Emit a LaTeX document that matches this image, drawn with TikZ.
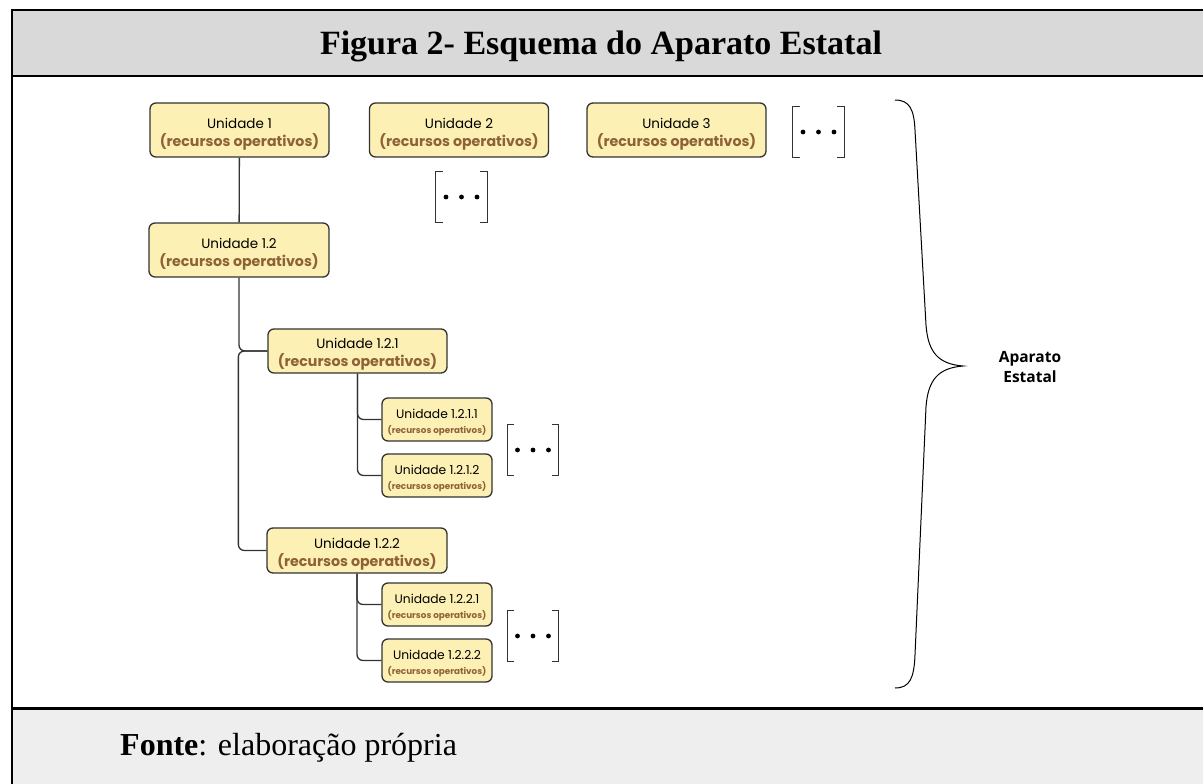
\documentclass[tikz,border=0pt]{standalone}
\usepackage{fontspec}
\setmainfont{Liberation Serif}
\newfontfamily\boxfont{Poppins}
\newfontfamily\brfont{Open Sans}
\usetikzlibrary{calc}
\definecolor{boxfill}{HTML}{FCF0B4}
\definecolor{boxline}{HTML}{333333}
\definecolor{subbrown}{HTML}{8E6236}
\definecolor{hdrgray}{HTML}{D9D9D9}
\definecolor{ftrgray}{HTML}{EEEEEE}
\tikzset{
  unit/.style={draw=boxline, line width=1.3pt, fill=boxfill, rounded corners=6pt,
    inner sep=0pt, minimum width=179pt, minimum height=54pt},
  unitm/.style={unit, minimum height=44pt},
  units/.style={unit, minimum width=110pt, minimum height=43pt},
  utxt/.style={inner sep=0pt, align=center, font=\boxfont\fontsize{13.5}{18}\selectfont},
  utxts/.style={inner sep=0pt, align=center, font=\boxfont\fontsize{12.3}{15}\selectfont},
  conn/.style={draw=boxline, line width=1.3pt, rounded corners=6pt},
  brk/.style={minimum width=51pt, minimum height=50pt, inner sep=0pt},
  brkline/.style={draw=boxline, line width=1.3pt},
  frame/.style={draw=black, line width=2.5pt}
}
\newcommand{\subL}{{\fontsize{14.2}{18}\selectfont\bfseries\color{subbrown}(recursos operativos)}}
\newcommand{\subS}{{\fontsize{8.8}{10}\selectfont\bfseries\color{subbrown}(recursos operativos)}}
% \ubox{name}{box style}{text style}{x}{y}{text shift}{label}{sub}
\newcommand{\ubox}[8]{%
  \node[#2] (#1) at (#4,#5) {};
  \node[#3] (#1t) at ($(#1.center)+(0,#6)$) {#7\\#8};
}
\newcommand{\dotsbr}[3]{%
  \node[brk] (#1) at (#2,#3) {};
  \draw[brkline] ($(#1.north west)+(7,0)$) -- (#1.north west) -- (#1.south west) -- ++(7,0);
  \draw[brkline] ($(#1.north east)+(-7,0)$) -- (#1.north east) -- (#1.south east) -- ++(-7,0);
  \fill[black] ($(#1.center)+(-15.5,0)$) circle (2.4pt);
  \fill[black] (#1.center) circle (2.4pt);
  \fill[black] ($(#1.center)+(15.5,0)$) circle (2.4pt);
}
\begin{document}
\begin{tikzpicture}[x=1pt,y=-1pt]
\useasboundingbox (0,0) rectangle (1203,784);
\fill[white] (0,0) rectangle (1203,784);
% header and footer
\fill[hdrgray] (12,10) rectangle (1203,76);
\fill[ftrgray] (12,708) rectangle (1203,784);
\draw[frame] (12,10) -- (1203,10);
\draw[frame] (12,76) -- (1203,76);
\draw[frame, line width=3pt] (12,708) -- (1203,708);
\draw[frame] (12,8.75) -- (12,784);
\node[font=\bfseries\fontsize{34}{40}\selectfont, anchor=base, inner sep=0pt] (title) at (601,55) {Figura 2- Esquema do Aparato Estatal};
\node[font=\fontsize{32}{38}\selectfont, anchor=base west, inner sep=0pt] (fonte) at (120,755) {\textbf{Fonte}: elaboração própria};

% units
\ubox{u1}{unit}{utxt}{239.5}{130}{4.5}{Unidade 1}{\subL}
\ubox{u2}{unit}{utxt}{459}{130}{4.5}{Unidade 2}{\subL}
\ubox{u3}{unit}{utxt}{676.5}{130}{4.5}{Unidade 3}{\subL}
\ubox{u12}{unit, minimum width=180pt}{utxt}{239}{250}{4.5}{Unidade 1.2}{\subL}
\ubox{u121}{unitm}{utxt}{357.5}{351}{3.5}{Unidade 1.2.1}{\subL}
\ubox{u1211}{units}{utxts}{437}{419.5}{2.5}{Unidade 1.2.1.1}{\subS}
\ubox{u1212}{units}{utxts}{437}{475.5}{2.5}{Unidade 1.2.1.2}{\subS}
\ubox{u122}{unitm, minimum width=180pt, minimum height=45pt}{utxt}{357}{550.5}{3.5}{Unidade 1.2.2}{\subL}
\ubox{u1221}{units}{utxts}{437}{604.5}{2.5}{Unidade 1.2.2.1}{\subS}
\ubox{u1222}{units}{utxts}{437}{660.5}{2.5}{Unidade 1.2.2.2}{\subS}

% ellipsis brackets
\dotsbr{d1}{818.5}{132}
\dotsbr{d2}{461.5}{197}
\dotsbr{d3}{533}{450}
\dotsbr{d4}{533}{636}

% connectors
\draw[conn] (u1) -- (u12);
\draw[conn] (u12.south) |- (u121.west);
\draw[conn] (u121.west) -- ++(-29,0) |- (u122.west);
\draw[conn] (u121.south) |- (u1211.west);
\draw[conn] (u121.south) |- (u1212.west);
\draw[conn] (u122.south) |- (u1221.west);
\draw[conn] (u122.south) |- (u1222.west);

% brace
\draw[black, line width=1pt] (895,100) .. controls (910,100) and (914,110) .. (915,130)
  -- (926,325) .. controls (928,352) and (938,364) .. (963,366)
  .. controls (938,368) and (928,380) .. (926,407)
  -- (915,655) .. controls (914,678) and (910,688) .. (895,688);
\node[font=\brfont\bfseries\fontsize{15.5}{20}\selectfont, align=center] (ae) at (1030,367) {Aparato\\Estatal};
\end{tikzpicture}
\end{document}
